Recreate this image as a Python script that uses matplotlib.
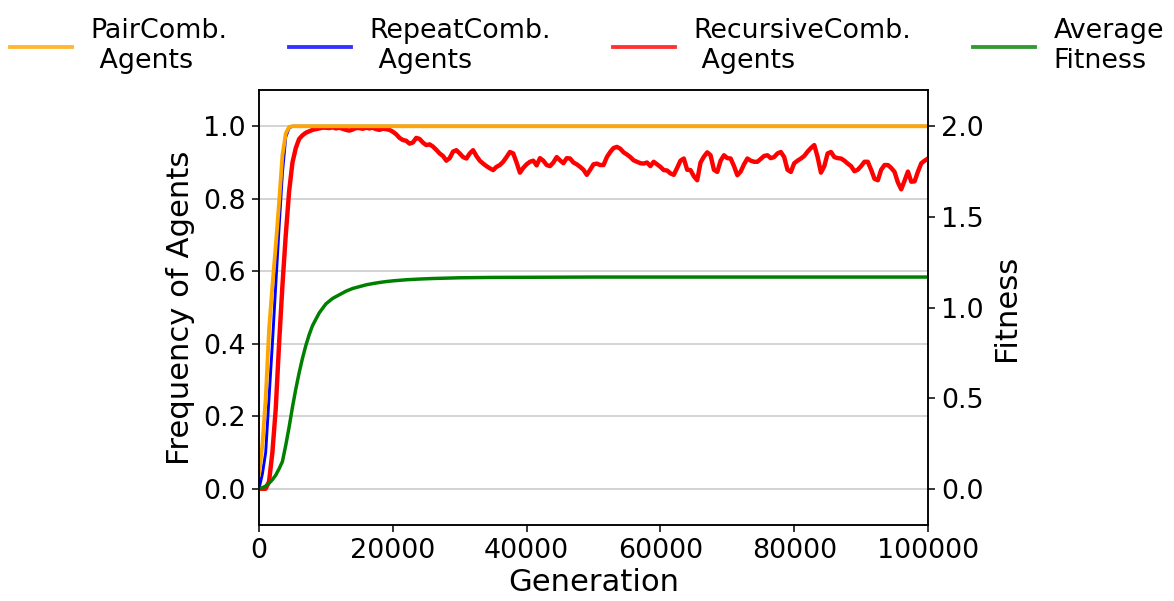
import matplotlib
matplotlib.use("Agg")
import matplotlib.pyplot as plt

# Datos
gen_pair = [0, 500, 1000, 1500, 2000, 2500, 3000, 3500, 4000, 4500, 5000, 100000]
freq_pair = [0.04, 0.12, 0.25, 0.44, 0.56, 0.67, 0.79, 0.92, 0.98, 0.998, 1.0, 1.0]

gen_repeat = [0, 500, 1000, 1500, 2000, 2500, 3000, 3500, 4000, 4500, 5000, 100000]
freq_repeat = [0.0, 0.04, 0.10, 0.25, 0.40, 0.56, 0.72, 0.87, 0.97, 0.995, 1.0, 1.0]

gen_recursive = list(range(0, 100001, 500))
freq_recursive = [
    0.0, 0.0, 0.0, 0.02, 0.10, 0.22, 0.40, 0.56, 0.70, 0.82,
    0.90, 0.94, 0.965, 0.975, 0.982, 0.986, 0.990, 0.992, 0.994, 0.996,
    0.996, 0.995, 0.997, 0.994, 0.996, 0.993, 0.990, 0.988, 0.991, 0.995,
    0.995, 0.993, 0.996, 0.994, 0.996, 0.992, 0.990, 0.993, 0.992, 0.990,
    0.985, 0.978, 0.968, 0.962, 0.960, 0.952, 0.955, 0.968, 0.965, 0.955,
    0.948, 0.950, 0.944, 0.935, 0.925, 0.918, 0.905, 0.912, 0.930, 0.934,
    0.925, 0.915, 0.911, 0.925, 0.934, 0.918, 0.905, 0.897, 0.890, 0.884,
    0.879, 0.888, 0.893, 0.902, 0.915, 0.929, 0.925, 0.900, 0.872, 0.885,
    0.895, 0.902, 0.905, 0.892, 0.912, 0.905, 0.893, 0.890, 0.900, 0.915,
    0.906, 0.898, 0.912, 0.911, 0.900, 0.895, 0.888, 0.880, 0.866, 0.880,
    0.895, 0.897, 0.893, 0.893, 0.915, 0.929, 0.940, 0.943, 0.938, 0.928,
    0.922, 0.915, 0.906, 0.902, 0.898, 0.897, 0.900, 0.890, 0.902, 0.895,
    0.888, 0.879, 0.878, 0.870, 0.866, 0.885, 0.905, 0.911, 0.880, 0.879,
    0.862, 0.851, 0.900, 0.916, 0.928, 0.920, 0.880, 0.874, 0.905, 0.920,
    0.912, 0.911, 0.890, 0.865, 0.875, 0.895, 0.911, 0.905, 0.902, 0.902,
    0.910, 0.918, 0.920, 0.912, 0.915, 0.925, 0.929, 0.915, 0.880, 0.874,
    0.898, 0.905, 0.911, 0.918, 0.930, 0.940, 0.948, 0.915, 0.872, 0.890,
    0.925, 0.929, 0.915, 0.912, 0.911, 0.905, 0.897, 0.890, 0.876, 0.880,
    0.890, 0.902, 0.902, 0.880, 0.855, 0.851, 0.880, 0.893, 0.893, 0.885,
    0.874, 0.845, 0.826, 0.850, 0.875, 0.847, 0.848, 0.875, 0.898, 0.905,
    0.911,
]

gen_fitness = [0, 500, 1000, 1500, 2000, 2500, 3000, 3500, 4000, 4500,
               5000, 5500, 6000, 6500, 7000, 7500, 8000, 9000, 10000, 11000,
               12000, 13000, 14000, 15000, 16000, 17000, 18000, 19000, 20000, 22000,
               24000, 26000, 28000, 30000, 35000, 50000, 70000, 100000]
avg_fitness = [0.0, 0.005, 0.015, 0.03, 0.05, 0.075, 0.11, 0.15, 0.24, 0.34,
               0.45, 0.55, 0.64, 0.72, 0.79, 0.85, 0.90, 0.97, 1.02, 1.05,
               1.07, 1.09, 1.105, 1.115, 1.125, 1.132, 1.138, 1.143, 1.147, 1.153,
               1.157, 1.160, 1.162, 1.164, 1.166, 1.168, 1.168, 1.168]

labels = ["PairComb.\n Agents", "RepeatComb.\n Agents",
          "RecursiveComb.\n Agents", "Average\nFitness"]

dpi = 138
fig = plt.figure(figsize=(1174 / dpi, 601 / dpi), dpi=dpi)
ax1 = fig.add_axes([259 / 1174, 1 - 525 / 601, (928 - 259) / 1174, (525 - 90) / 601])

l2, = ax1.plot(gen_repeat, freq_repeat, color="blue", lw=1.5)
l3, = ax1.plot(gen_recursive, freq_recursive, color="red", lw=2.3)
l1, = ax1.plot(gen_pair, freq_pair, color="orange", lw=2.0)

ax1.set_xlim(0, 100000)
ax1.set_ylim(-0.1, 1.1)
ax1.set_xticks([0, 20000, 40000, 60000, 80000, 100000])
ax1.set_yticks([0.0, 0.2, 0.4, 0.6, 0.8, 1.0])
ax1.yaxis.grid(True, color="lightgray", lw=1.0)
ax1.set_axisbelow(True)
ax1.set_xlabel("Generation", fontsize=16, labelpad=2)
ax1.set_ylabel("Frequency of Agents", fontsize=16)
ax1.tick_params(labelsize=14)

ax2 = ax1.twinx()
l4, = ax2.plot(gen_fitness, avg_fitness, color="green", lw=1.8)
ax2.set_ylim(-0.2, 2.2)
ax2.set_yticks([0.0, 0.5, 1.0, 1.5, 2.0])
ax2.set_ylabel("Fitness", fontsize=16)
ax2.tick_params(labelsize=14)

leg = fig.legend([l1, l2, l3, l4], labels, loc="upper center",
                 bbox_to_anchor=(0.5, 1.01), ncol=4, frameon=False, fontsize=14,
                 handlelength=2.3, columnspacing=2.3, handletextpad=0.7)
for h in leg.get_lines():
    h.set_alpha(0.8)
    h.set_linewidth(2)

fig.savefig("out.png", dpi=dpi)
